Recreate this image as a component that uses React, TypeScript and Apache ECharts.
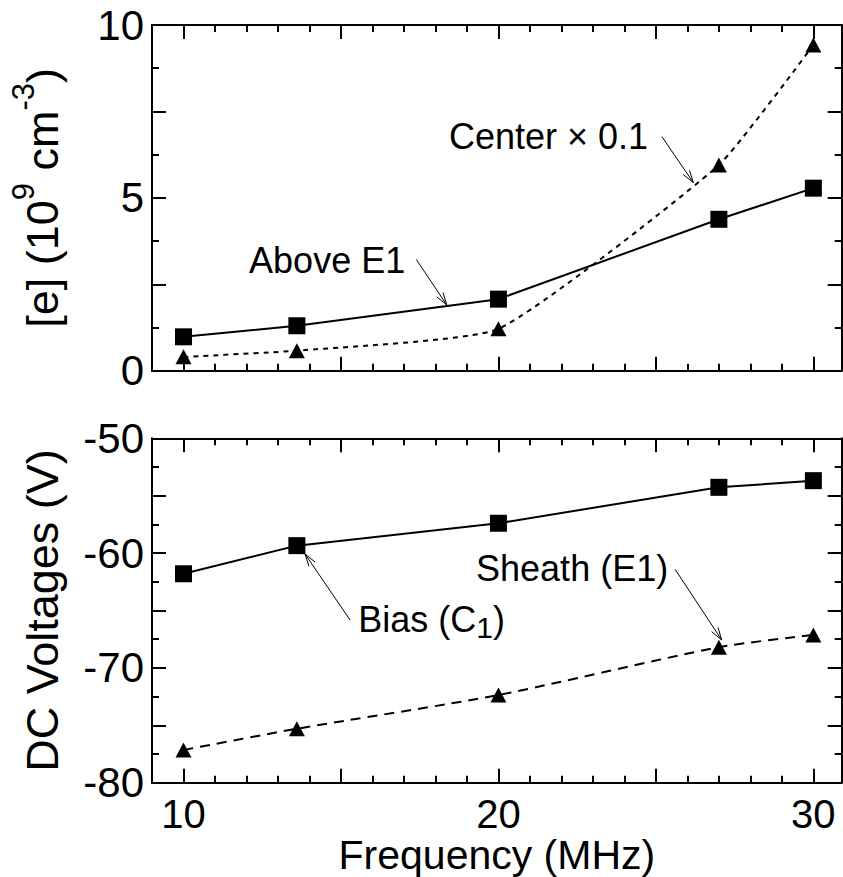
import { useEffect, useRef } from "react";
import * as echarts from "echarts";

// Frequency of each measurement (MHz)
const freq = [10, 13.6, 20, 27, 30];
// Electron density, 10^9 cm^-3
const densityAboveE1 = [0.98, 1.3, 2.07, 4.38, 5.28];
const densityCenterScaled = [0.4, 0.58, 1.21, 5.95, 9.42];
// DC voltages (V)
const biasC1 = [-61.8, -59.35, -57.4, -54.27, -53.69];
const sheathE1 = [-77.15, -75.3, -72.36, -68.2, -67.13];

// Axis ticks and labels
const xMajorTicks = [10, 15, 20, 25, 30];
const xMinorTicks = [10, 11, 12, 13, 14, 15, 16, 17, 18, 19, 20, 21, 22, 23, 24, 25, 26, 27, 28, 29, 30];
const xTickLabels = [10, 20, 30];
const densityTickLabels = [0, 5, 10];
const voltageTickLabels = [-80, -70, -60, -50];

const X_MIN = 9;
const X_MAX = 30.9;

const FONT = '"Liberation Sans", Arial, Helvetica, sans-serif';
const AXIS_FS = 42;
const X_LABEL_FS = 40;
const X_NAME_FS = 41;
const NAME_FS = 45;
const NOTE_FS = 36;
const BLACK = "#000";

// Callout labels with arrows, in data coordinates of their grid
const callouts = [
  { grid: 0, text: "Center × 0.1", at: [24.75, 6.77], align: "right", from: [25.19, 6.77], to: [26.19, 5.44] },
  { grid: 0, text: "Above E1", at: [17.04, 3.2], align: "right", from: [17.39, 3.22], to: [18.36, 1.9] },
  { grid: 1, text: "Bias (C{sub|1})", at: [15.55, -65.8], align: "left", from: [15.29, -65.83], to: [13.86, -60.08] },
  { grid: 1, text: "Sheath (E1)", at: [25.39, -61.3], align: "right", from: [25.61, -61.41], to: [27.09, -67.57] },
];

const pairs = (xs: number[], ys: number[]) => xs.map((x, i) => [x, ys[i]]);

const lineBlack = { color: BLACK, width: 2 };

function xAxes(gridIndex: number, withLabels: boolean) {
  const base = {
    type: "value",
    gridIndex,
    min: X_MIN,
    max: X_MAX,
    splitLine: { show: false },
    minorSplitLine: { show: false },
  };
  const major = (position: string, labels: boolean) => ({
    ...base,
    position,
    axisLine: { show: true, onZero: false, lineStyle: lineBlack },
    axisTick: { show: true, inside: true, length: 14, customValues: xMajorTicks, lineStyle: lineBlack },
    axisLabel: labels
      ? {
          show: true,
          customValues: xTickLabels,
          margin: 15,
          fontSize: X_LABEL_FS,
          lineHeight: 32,
          fontFamily: FONT,
          color: BLACK,
        }
      : { show: false },
    ...(labels
      ? {
          name: "Frequency (MHz)",
          nameLocation: "middle",
          nameGap: 56,
          nameMoveOverlap: false,
          nameTextStyle: { fontSize: X_NAME_FS, lineHeight: 32, fontFamily: FONT, color: BLACK },
        }
      : {}),
  });
  const minor = (position: string) => ({
    ...base,
    position,
    axisLine: { show: false, onZero: false },
    axisTick: { show: true, inside: true, length: 7, customValues: xMinorTicks, lineStyle: lineBlack },
    axisLabel: { show: false },
  });
  return [major("bottom", withLabels), minor("bottom"), major("top", false), minor("top")];
}

function yAxes(
  gridIndex: number,
  min: number,
  max: number,
  interval: number,
  labels: number[],
  name: string,
  rich?: any
) {
  const base = {
    type: "value",
    gridIndex,
    min,
    max,
    interval,
    splitLine: { show: false },
    minorSplitLine: { show: false },
    axisLine: { show: true, onZero: false, lineStyle: lineBlack },
    axisTick: { show: true, inside: true, length: 14, lineStyle: lineBlack },
    minorTick: { show: true, splitNumber: 2, length: 7, lineStyle: lineBlack },
  };
  return [
    {
      ...base,
      position: "left",
      axisLabel: {
        show: true,
        showMinLabel: true,
        showMaxLabel: true,
        margin: 8,
        fontSize: AXIS_FS,
        fontFamily: FONT,
        color: BLACK,
        formatter: (v: number) => (labels.some((l) => Math.abs(l - v) < 1e-6) ? String(v) : ""),
      },
      name,
      nameLocation: "middle",
      nameGap: 76,
      nameRotate: 90,
      nameMoveOverlap: false,
      nameTextStyle: {
        fontSize: NAME_FS,
        fontFamily: FONT,
        color: BLACK,
        lineHeight: 68,
        rich,
      },
    },
    { ...base, position: "right", axisLabel: { show: false } },
  ];
}

export default function App() {
  const ref = useRef<HTMLDivElement>(null);

  useEffect(() => {
    const chart = echarts.init(ref.current!, null, { renderer: "svg" });

    const supStyle = {
      fontSize: 31,
      fontFamily: FONT,
      color: BLACK,
      verticalAlign: "top",
      lineHeight: 31,
    };

    const option: any = {
      animation: false,
      backgroundColor: "#fff",
      grid: [
        { left: 152, top: 25, width: 689.7, height: 345.7, containLabel: false, outerBoundsMode: "none" },
        { left: 152, top: 438.3, width: 689.7, height: 344.4, containLabel: false, outerBoundsMode: "none" },
      ],
      xAxis: [...xAxes(0, false), ...xAxes(1, true)],
      yAxis: [
        ...yAxes(0, 0, 10, 2.5, densityTickLabels, "[e] (10{sup|9} cm{sup|-3})", {
          sup: supStyle,
        }),
        ...yAxes(1, -80, -50, 5, voltageTickLabels, "DC Voltages (V)"),
      ],
      series: [
        {
          name: "Above E1",
          type: "line",
          xAxisIndex: 0,
          yAxisIndex: 0,
          data: pairs(freq, densityAboveE1),
          symbol: "rect",
          symbolSize: 17,
          itemStyle: { color: BLACK },
          lineStyle: { color: BLACK, width: 2 },
          z: 3,
        },
        {
          name: "Center × 0.1",
          type: "line",
          xAxisIndex: 0,
          yAxisIndex: 0,
          data: pairs(freq, densityCenterScaled),
          symbol: "triangle",
          symbolSize: [16, 15],
          smooth: 0.15,
          itemStyle: { color: BLACK },
          lineStyle: { color: BLACK, width: 2, type: [5, 5] },
          z: 2,
        },
        {
          name: "Bias (C1)",
          type: "line",
          xAxisIndex: 4,
          yAxisIndex: 2,
          data: pairs(freq, biasC1),
          symbol: "rect",
          symbolSize: 17,
          itemStyle: { color: BLACK },
          lineStyle: { color: BLACK, width: 2 },
          z: 3,
        },
        {
          name: "Sheath (E1)",
          type: "line",
          xAxisIndex: 4,
          yAxisIndex: 2,
          data: pairs(freq, sheathE1),
          symbol: "triangle",
          symbolSize: [16, 15],
          smooth: 0.25,
          itemStyle: { color: BLACK },
          lineStyle: { color: BLACK, width: 2, type: [10, 7] },
          z: 2,
        },
      ],
    };

    chart.setOption(option);

    // Callout texts and open-headed arrows, placed through the grids' scales
    const graphics: any[] = [];
    callouts.forEach((c) => {
      const finder = { gridIndex: c.grid };
      const at = chart.convertToPixel(finder, c.at) as number[];
      const from = chart.convertToPixel(finder, c.from) as number[];
      const to = chart.convertToPixel(finder, c.to) as number[];
      graphics.push({
        type: "text",
        x: at[0],
        y: at[1],
        z: 10,
        style: {
          text: c.text,
          fontSize: NOTE_FS,
          fontFamily: FONT,
          fill: BLACK,
          align: c.align,
          verticalAlign: "middle",
          lineHeight: 46,
          rich: {
            sub: {
              fontSize: 30,
              fontFamily: FONT,
              fill: BLACK,
              verticalAlign: "bottom",
              lineHeight: 30,
            },
          },
        },
      });
      graphics.push({
        type: "line",
        z: 10,
        shape: { x1: from[0], y1: from[1], x2: to[0], y2: to[1] },
        style: { stroke: BLACK, lineWidth: 1 },
      });
      const dx = to[0] - from[0];
      const dy = to[1] - from[1];
      const len = Math.hypot(dx, dy);
      const ux = dx / len;
      const uy = dy / len;
      const head = 13;
      const ang = (17 * Math.PI) / 180;
      const rot = (a: number) => [ux * Math.cos(a) - uy * Math.sin(a), ux * Math.sin(a) + uy * Math.cos(a)];
      const r1 = rot(ang);
      const r2 = rot(-ang);
      graphics.push({
        type: "polyline",
        z: 10,
        shape: {
          points: [
            [to[0] - head * r1[0], to[1] - head * r1[1]],
            [to[0], to[1]],
            [to[0] - head * r2[0], to[1] - head * r2[1]],
          ],
        },
        style: { stroke: BLACK, lineWidth: 1, fill: null },
      });
    });
    chart.setOption({ graphic: graphics });

    return () => chart.dispose();
  }, []);

  return (
    <div
      ref={ref}
      style={{ position: "fixed", left: 0, top: 0, width: 843, height: 877, background: "#fff" }}
    />
  );
}
